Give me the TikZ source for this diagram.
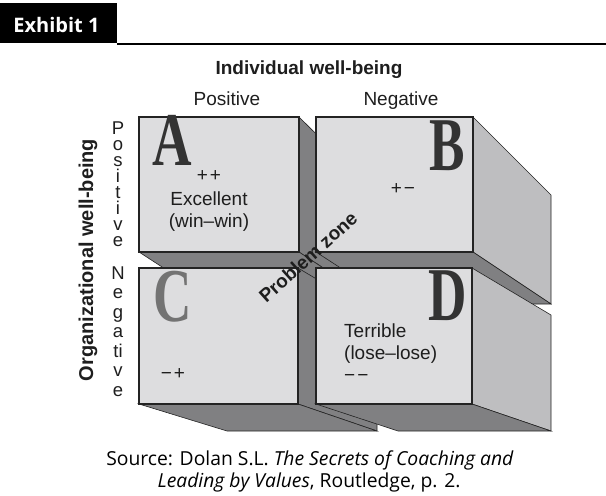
\documentclass[tikz,border=0pt]{standalone}
\usepackage{fontspec}
\usepackage{graphicx}
\setmainfont{Liberation Sans}
\newfontfamily\srcfont{Open Sans}
\newfontfamily\letterfont{Liberation Serif}

\definecolor{frontgray}{RGB}{221,221,223}
\definecolor{sidegray}{RGB}{190,190,192}
\definecolor{basegray}{RGB}{128,128,130}
\definecolor{edgegray}{RGB}{35,35,35}
\definecolor{inkgray}{RGB}{30,30,30}

\begin{document}
\begin{tikzpicture}[x=1pt, y=-1pt,
    front/.style={fill=frontgray, draw=edgegray, line width=1.3pt},
    side/.style={fill=sidegray, draw=edgegray, line width=0.6pt},
    base/.style={fill=basegray, draw=edgegray, line width=0.6pt},
    label/.style={inner sep=0pt, text=inkgray, font=\fontsize{19}{22}\selectfont},
    heading/.style={inner sep=0pt, anchor=base, text=inkgray, font=\bfseries\fontsize{19}{22}\selectfont},
    vletter/.style={inner sep=0pt, anchor=base, text=inkgray, font=\fontsize{18.5}{18}\selectfont},
    deco/.style={inner sep=0pt, text=black!80, font=\letterfont\bfseries\fontsize{76}{76}\selectfont},
    source/.style={inner sep=0pt, anchor=base, text=black, font=\srcfont\fontsize{19.3}{22}\selectfont}]
    \useasboundingbox (0,0) rectangle (606,496);

    % header
    \fill[black] (0,3) rectangle (117,43);
    \draw[black, line width=2pt] (117,43.5) -- (606,43.5);
    \node[inner sep=0pt, anchor=base, text=white, font=\srcfont\bfseries\fontsize{20}{22}\selectfont] (exhibit) at (56.5,32) {Exhibit 1};

    % box A
    \draw[base] (299,117) -- (378,195) -- (378,304) -- (299,252) -- cycle;
    \draw[base] (139,252) -- (299,252) -- (378,304) -- (219,304) -- cycle;
    \draw[front] (139,117) rectangle (299,252);

    % box B
    \draw[side] (473,117) -- (551,195) -- (551,304) -- (473,252) -- cycle;
    \draw[base] (316,252) -- (473,252) -- (551,304) -- (396,304) -- cycle;
    \draw[front] (316,117) rectangle (473,252);

    % box C
    \draw[base] (298,268) -- (377,315) -- (377,431) -- (298,404) -- cycle;
    \draw[base] (139,404) -- (298,404) -- (377,431) -- (227,431) -- cycle;
    \draw[front] (139,268) rectangle (298,404);

    % box D
    \draw[side] (472,268) -- (551,315) -- (551,431) -- (472,404) -- cycle;
    \draw[base] (316,404) -- (472,404) -- (551,431) -- (398,431) -- cycle;
    \draw[front] (316,268) rectangle (472,404);

    % corner letters
    \node[deco] (A) at (172,140) {\scalebox{0.72}[1]{A}};
    \node[deco] (B) at (447,146) {\scalebox{0.7}[1]{B}};
    \node[deco, text=black!55] (C) at (173,297) {\scalebox{0.7}[1]{C}};
    \node[deco] (D) at (448,296) {\scalebox{0.7}[1]{D}};

    % quadrant texts
    \node[label] (pp) at (209,176) {+\hspace{2pt}+};
    \node[label] (excellent) at (209,199) {Excellent};
    \node[label] (winwin) at (209,223) {(win–win)};
    \node[label] (pm) at (403,189) {+\hspace{2pt}−};
    \node[label] (mp) at (173,374) {−\hspace{2pt}+};
    \node[label, anchor=west] (terrible) at (344,331) {Terrible};
    \node[label, anchor=west] (loselose) at (344,355) {(lose–lose)};
    \node[label, anchor=west] (mm) at (344,378) {−\hspace{2pt}−};

    \node[label, font=\bfseries\fontsize{19}{22}\selectfont, rotate=42] (problem) at (308,257) {Problem zone};

    % axis titles
    \node[heading] (individual) at (309,74) {Individual well-being};
    \node[label, anchor=base] (colpos) at (227,105) {Positive};
    \node[label, anchor=base] (colneg) at (401,105) {Negative};
    \node[label, font=\bfseries\fontsize{20}{22}\selectfont, rotate=90] (organizational) at (88,260) {Organizational well-being};

    \node[vletter] (p1) at (118,134) {P};
    \node[vletter] (p2) at (118,150) {o};
    \node[vletter] (p3) at (118,166) {s};
    \node[vletter] (p4) at (118,182) {i};
    \node[vletter] (p5) at (118,198) {t};
    \node[vletter] (p6) at (118,214) {i};
    \node[vletter] (p7) at (118,230) {v};
    \node[vletter] (p8) at (118,246) {e};

    \node[vletter] (n1) at (118,279) {N};
    \node[vletter] (n2) at (118,298) {e};
    \node[vletter] (n3) at (118,318) {g};
    \node[vletter] (n4) at (118,337) {a};
    \node[vletter] (n5) at (118,357) {ti};
    \node[vletter] (n6) at (118,376) {v};
    \node[vletter] (n7) at (118,396) {e};

    % source
    \node[source] (src1) at (310,465) {Source: Dolan S.L. \textit{The Secrets of Coaching and}};
    \node[source] (src2) at (309,487) {\textit{Leading by Values}, Routledge, p. 2.};
\end{tikzpicture}
\end{document}
